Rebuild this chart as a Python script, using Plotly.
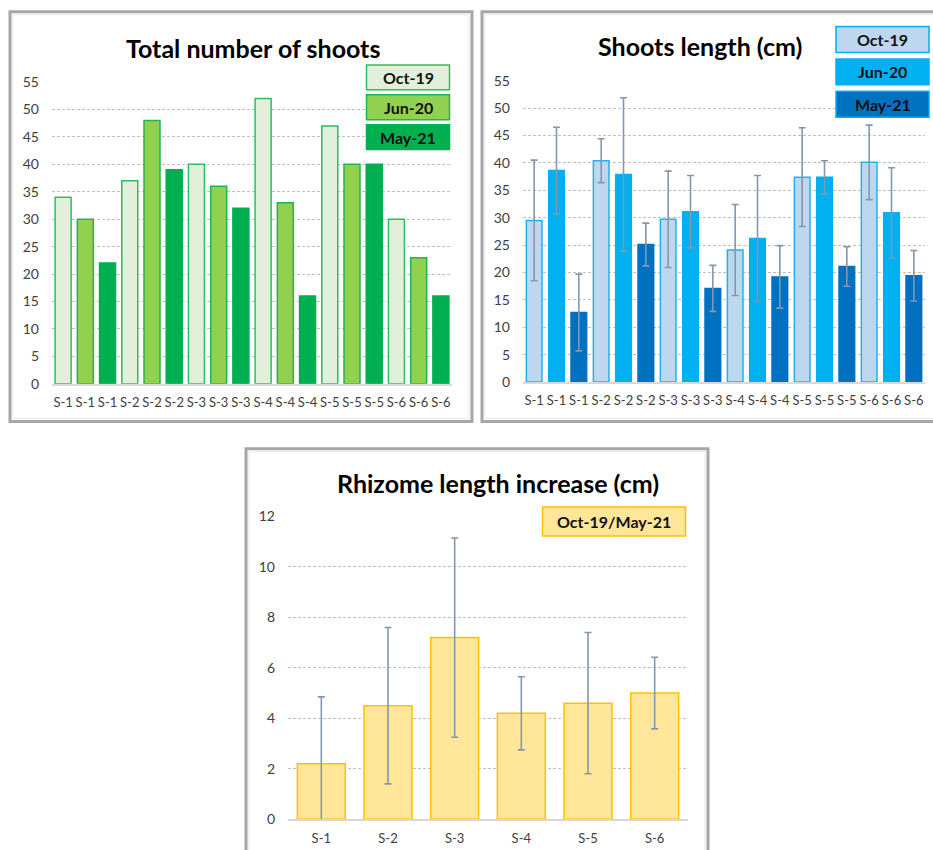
import plotly.graph_objects as go

# ---------------- data ----------------
sites = ["S-1", "S-2", "S-3", "S-4", "S-5", "S-6"]
periods = ["Oct-19", "Jun-20", "May-21"]

shoots_oct19 = [34, 37, 40, 52, 47, 30]
shoots_jun20 = [30, 48, 36, 33, 40, 23]
shoots_may21 = [22, 39, 32, 16, 40, 16]

length_oct19 = [29.5, 40.4, 29.7, 24.1, 37.4, 40.1]
length_oct19_err = [11.0, 4.0, 8.8, 8.3, 9.0, 6.8]
length_jun20 = [38.6, 37.9, 31.1, 26.2, 37.4, 30.9]
length_jun20_err = [7.9, 14.0, 6.6, 11.5, 3.0, 8.2]
length_may21 = [12.7, 25.1, 17.1, 19.2, 21.1, 19.4]
length_may21_err = [7.0, 3.9, 4.2, 5.7, 3.6, 4.6]

rhizome_label = "Oct-19/May-21"
rhizome = [2.2, 4.5, 7.2, 4.2, 4.6, 5.0]
rhizome_err = [2.65, 3.1, 3.95, 1.45, 2.8, 1.42]

titles = ["Total number of shoots", "Shoots length (cm)", "Rhizome length increase (cm)"]

# ---------------- layout helpers ----------------
W, H = 933, 850
FONT = "Lato, Carlito, Calibri, sans-serif"
TICK_COLOR = "#404040"
GRID = "#BFBFBF"
ERR = "#8497B0"
# empirical vertical correction of the rendered page
Y_OFF, Y_SCALE = 5.3, 0.9842


def px(x):
    return x / W


def py(y):
    return 1 - ((y - Y_OFF) / Y_SCALE) / H


fig = go.Figure()

n = len(periods)
grouped_ticktext = [s for s in sites for _ in range(n)]
grouped_tickvals = list(range(len(grouped_ticktext)))


def group_x(k):
    return [i * n + k for i in range(len(sites))]


# chart 1 : total number of shoots
c1_fill = ["#E2EFDA", "#92D050", "#00B050"]
c1_line = ["#2DBE5E", "#1FB552", "#00B050"]
for k, vals in enumerate([shoots_oct19, shoots_jun20, shoots_may21]):
    fig.add_trace(go.Bar(
        x=group_x(k), y=vals, name=periods[k], width=0.72,
        marker=dict(color=c1_fill[k], line=dict(color=c1_line[k], width=1.5)),
        xaxis="x", yaxis="y", showlegend=False,
    ))

# chart 2 : shoots length
c2_fill = ["#BDD7EE", "#00B0F0", "#0070C0"]
c2_line = ["#1DB4F0", "#00B0F0", "#0070C0"]
for k, (vals, errs) in enumerate([(length_oct19, length_oct19_err),
                                  (length_jun20, length_jun20_err),
                                  (length_may21, length_may21_err)]):
    fig.add_trace(go.Bar(
        x=group_x(k), y=vals, name=periods[k], width=0.70,
        marker=dict(color=c2_fill[k], line=dict(color=c2_line[k], width=1.5)),
        error_y=dict(type="data", array=errs, visible=True, color=ERR, thickness=1.6, width=3.5),
        xaxis="x2", yaxis="y2", showlegend=False,
    ))

# chart 3 : rhizome length increase
fig.add_trace(go.Bar(
    x=list(range(len(sites))), y=rhizome, name=rhizome_label, width=0.72,
    marker=dict(color="#FFE699", line=dict(color="#FFC000", width=1.5)),
    error_y=dict(type="data", array=rhizome_err, visible=True, color=ERR, thickness=1.6, width=3.5),
    xaxis="x3", yaxis="y3", showlegend=False,
))

# plot areas in pixels: (left, right, top-of-range, bottom)
areas = {
    "1": (52, 452, 78.7, 381.7),
    "2": (523, 925, 77.3, 380.0),
    "3": (288, 688, 515.0, 819.0),
}

yaxis_common = dict(
    showgrid=True, gridcolor=GRID, griddash="3px,2px", gridwidth=1,
    zeroline=False, showline=False, ticks="",
    tickfont=dict(family=FONT, size=14, color=TICK_COLOR),
    ticklabelstandoff=12, fixedrange=True,
)
xaxis_common = dict(
    showgrid=False, zeroline=False, showline=True, linecolor="#D9D9D9", linewidth=1.5,
    ticks="", tickfont=dict(family=FONT, size=13, color=TICK_COLOR),
    ticklabelstandoff=6, fixedrange=True,
)

layout = dict(
    width=W, height=H, margin=dict(l=0, r=0, t=0, b=0),
    paper_bgcolor="white", plot_bgcolor="white",
    barmode="overlay", showlegend=False,
    font=dict(family=FONT),
)

for key, (l, r, t, b) in areas.items():
    xa = "xaxis" if key == "1" else "xaxis" + key
    ya = "yaxis" if key == "1" else "yaxis" + key
    xs = "x" if key == "1" else "x" + key
    ys = "y" if key == "1" else "y" + key
    if key == "3":
        layout[xa] = dict(xaxis_common, domain=[px(l), px(r)], anchor=ys,
                          range=[-0.5, len(sites) - 0.5],
                          tickmode="array", tickvals=list(range(len(sites))), ticktext=sites)
        layout[ya] = dict(yaxis_common, domain=[py(b), py(t)], anchor=xs,
                          range=[0, 12], dtick=2, tick0=0)
    else:
        layout[xa] = dict(xaxis_common, domain=[px(l), px(r)], anchor=ys,
                          range=[-0.5, len(grouped_tickvals) - 0.5],
                          tickmode="array", tickvals=grouped_tickvals, ticktext=grouped_ticktext)
        layout[ya] = dict(yaxis_common, domain=[py(b), py(t)], anchor=xs,
                          range=[0, 55], dtick=5, tick0=0)

fig.update_layout(**layout)

# panel frames
shapes = []
frames = [(10, 472, 8, 419.5), (482, 940, 8, 419.5), (246, 708, 447, 880)]
for (l, r, t, b) in frames:
    shapes.append(dict(type="rect", xref="paper", yref="paper",
                       x0=px(l), x1=px(r), y0=py(b), y1=py(t),
                       line=dict(color="#A6A6A6", width=3), layer="above"))
    shapes.append(dict(type="rect", xref="paper", yref="paper",
                       x0=px(l + 3), x1=px(r - 3), y0=py(b - 3), y1=py(t + 3),
                       line=dict(color="#E3E8EF", width=1), layer="above"))

# legend boxes (as shapes + text)
annotations = []
legend_specs = [
    # (cx, cy, w, h, fill, border, text)
    (408, 74, 83, 25, c1_fill[0], "#2DBE5E", periods[0]),
    (408, 104, 83, 25, c1_fill[1], "#1FB552", periods[1]),
    (408, 134, 83, 25, c1_fill[2], "#00B050", periods[2]),
    (882.5, 36, 93, 26, c2_fill[0], "#00B0F0", periods[0]),
    (882.5, 68.5, 93, 26, c2_fill[1], "#00B0F0", periods[1]),
    (882.5, 101, 93, 26, c2_fill[2], "#00B0F0", periods[2]),
    (614, 520, 143, 29, "#FFE699", "#FFC000", rhizome_label),
]
for (cx, cy, w, h, fill, border, text) in legend_specs:
    shapes.append(dict(type="rect", xref="paper", yref="paper",
                       x0=px(cx - w / 2), x1=px(cx + w / 2),
                       y0=py(cy + h / 2), y1=py(cy - h / 2),
                       fillcolor=fill, line=dict(color=border, width=1.5), layer="above"))
    annotations.append(dict(xref="paper", yref="paper", x=px(cx), y=py(cy),
                            xanchor="center", yanchor="middle", showarrow=False,
                            text="<b>" + text + "</b>",
                            font=dict(family=FONT, size=16, color="#111111")))

# titles
title_pos = [(253, 44), (700, 42.5), (498, 481)]
for (cx, cy), txt in zip(title_pos, titles):
    annotations.append(dict(xref="paper", yref="paper", x=px(cx), y=py(cy),
                            xanchor="center", yanchor="middle", showarrow=False,
                            text="<b>" + txt + "</b>",
                            font=dict(family=FONT, size=25, color="#000000")))

fig.update_layout(shapes=shapes, annotations=annotations)

fig.write_html(
    "out.html",
    config={"displayModeBar": False},
    post_script=(
        "document.documentElement.style.margin='0';"
        "document.documentElement.style.padding='0';"
        "document.documentElement.style.overflow='hidden';"
        "document.body.style.margin='0';"
        "document.body.style.padding='0';"
        "document.body.style.overflow='hidden';"
        "var gd=document.getElementById('{plot_id}');"
        "gd.style.position='fixed';gd.style.top='0px';gd.style.left='0px';"
    ),
)
